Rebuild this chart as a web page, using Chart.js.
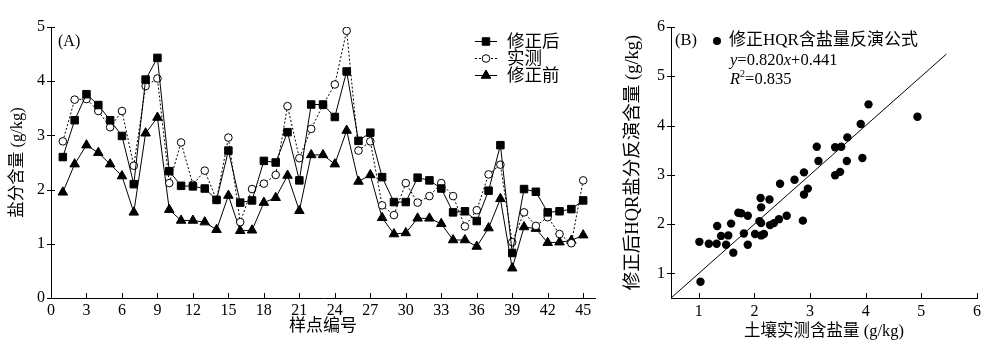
<!DOCTYPE html>
<html>
<head>
<meta charset="utf-8">
<script src="https://cdn.jsdelivr.net/npm/chart.js@4.4.0/dist/chart.umd.min.js"></script>
<style>
  html, body { margin: 0; padding: 0; background: #fff; }
  #wrap { position: relative; width: 990px; height: 352px; }
  #chartA { position: absolute; left: 0; top: 0; }
  #chartB { position: absolute; left: 610px; top: 0; }
</style>
</head>
<body>
<div id="wrap">
  <canvas id="chartA" width="610" height="352"></canvas>
  <canvas id="chartB" width="380" height="352"></canvas>
</div>
<script>
// 样点编号
const sampleIds = [1, 2, 3, 4, 5, 6, 7, 8, 9, 10, 11, 12, 13, 14, 15, 16, 17, 18, 19, 20, 21, 22, 23,
  24, 25, 26, 27, 28, 29, 30, 31, 32, 33, 34, 35, 36, 37, 38, 39, 40, 41, 42, 43, 44, 45];

// 修正后
const corrected = [2.60, 3.28, 3.76, 3.56, 3.28, 2.99, 2.10, 4.03, 4.43, 2.34, 2.07, 2.06, 2.02, 1.81, 2.72,
  1.76, 1.80, 2.53, 2.50, 3.06, 2.17, 3.57, 3.57, 3.34, 4.18, 2.90, 3.05, 2.23, 1.77, 1.77,
  2.22, 2.17, 2.02, 1.58, 1.60, 1.42, 1.98, 2.82, 0.83, 2.01, 1.96, 1.58, 1.60, 1.64, 1.80];

// 实测
const measured = [2.89, 3.66, 3.67, 3.45, 3.15, 3.45, 2.44, 3.91, 4.05, 2.12, 2.87, 2.09, 2.35, 1.81, 2.96,
  1.40, 2.01, 2.11, 2.27, 3.54, 2.58, 3.12, 3.56, 3.94, 4.93, 2.72, 2.89, 1.71, 1.53, 2.12,
  1.76, 1.88, 2.12, 1.88, 1.32, 1.62, 2.28, 2.46, 1.03, 1.58, 1.33, 1.49, 1.18, 1.01, 2.17];

// 修正前
const uncorrected = [1.95, 2.47, 2.82, 2.68, 2.47, 2.25, 1.58, 3.04, 3.33, 1.63, 1.43, 1.43, 1.40, 1.26, 1.89,
  1.24, 1.25, 1.76, 1.85, 2.26, 1.61, 2.64, 2.64, 2.47, 3.09, 2.15, 2.27, 1.48, 1.18, 1.20,
  1.47, 1.47, 1.37, 1.07, 1.07, 0.95, 1.29, 1.83, 0.55, 1.31, 1.28, 1.02, 1.03, 1.06, 1.16];

const xTicksA = [0, 3, 6, 9, 12, 15, 18, 21, 24, 27, 30, 33, 36, 39, 42, 45];
const yTicksA = [0, 1, 2, 3, 4, 5];
const ticksB = [1, 2, 3, 4, 5, 6];
const oneToOne = [0.5, 5.45];

const SERIF = '"Liberation Serif", "Times New Roman", "Noto Sans CJK SC", serif';

// 刻度线
const crossTicks = {
  id: 'crossTicks',
  afterDraw(chart) {
    const ctx = chart.ctx;
    const sx = chart.scales.x, sy = chart.scales.y;
    ctx.save();
    ctx.strokeStyle = '#000';
    ctx.lineWidth = 1;
    ctx.beginPath();
    sx.ticks.forEach(t => {
      const px = Math.round(sx.getPixelForValue(t.value)) + 0.5;
      ctx.moveTo(px, sx.top);
      ctx.lineTo(px, sx.top - 5);
    });
    sy.ticks.forEach(t => {
      const py = Math.round(sy.getPixelForValue(t.value)) + 0.5;
      ctx.moveTo(sy.right - 4, py);
      ctx.lineTo(sy.right + 4, py);
    });
    ctx.stroke();
    ctx.restore();
  }
};

function marker(ctx, style, x, y, r, fill) {
  ctx.beginPath();
  if (style === 'rect') {
    const s = r * Math.SQRT1_2;
    ctx.rect(x - s, y - s, 2 * s, 2 * s);
  } else if (style === 'triangle') {
    ctx.moveTo(x, y - r);
    ctx.lineTo(x + r * 0.866, y + r / 2);
    ctx.lineTo(x - r * 0.866, y + r / 2);
    ctx.closePath();
  } else {
    ctx.arc(x, y, r, 0, Math.PI * 2);
  }
  ctx.fillStyle = fill;
  ctx.fill();
  ctx.stroke();
}

const legendA = {
  id: 'legendA',
  afterDraw(chart) {
    const ctx = chart.ctx;
    ctx.save();
    ctx.font = '16px ' + SERIF;
    ctx.textBaseline = 'middle';
    ctx.fillStyle = '#000';
    ctx.fillText('(A)', 58, 42);
    chart.data.datasets.forEach((ds, i) => {
      const y = 41 + i * 17;
      ctx.strokeStyle = '#000';
      ctx.lineWidth = 1;
      ctx.setLineDash(ds.borderDash || []);
      ctx.beginPath();
      ctx.moveTo(475, y + 0.5);
      ctx.lineTo(497, y + 0.5);
      ctx.stroke();
      ctx.setLineDash([]);
      marker(ctx, ds.pointStyle, 486, y + 0.5, ds.pointRadius, ds.pointBackgroundColor);
      ctx.fillStyle = '#000';
      ctx.font = '17.5px ' + SERIF;
      ctx.fillText(ds.label, 507, y + 1);
    });
    ctx.restore();
  }
};

const toXY = vals => vals.map((v, i) => ({ x: sampleIds[i], y: v }));

new Chart(document.getElementById('chartA'), {
  type: 'line',
  data: {
    datasets: [
      { label: '修正后', data: toXY(corrected), borderColor: '#000', borderWidth: 1,
        pointStyle: 'rect', pointRadius: 5.3, pointBackgroundColor: '#000', pointBorderColor: '#000',
        pointBorderWidth: 1, tension: 0 },
      { label: '实测', data: toXY(measured), borderColor: '#000', borderWidth: 1, borderDash: [2, 2],
        pointStyle: 'circle', pointRadius: 3.8, pointBackgroundColor: '#fff', pointBorderColor: '#000',
        pointBorderWidth: 1, tension: 0 },
      { label: '修正前', data: toXY(uncorrected), borderColor: '#000', borderWidth: 1,
        pointStyle: 'triangle', pointRadius: 5.5, pointBackgroundColor: '#000', pointBorderColor: '#000',
        pointBorderWidth: 1, tension: 0 }
    ]
  },
  options: {
    responsive: false,
    animation: false,
    devicePixelRatio: 1,
    layout: { padding: { left: 0, top: 27, right: 15, bottom: 0 } },
    plugins: { legend: { display: false }, tooltip: { enabled: false } },
    scales: {
      x: {
        type: 'linear', min: 0, max: 46,
        afterBuildTicks: s => { s.ticks = xTicksA.map(v => ({ value: v })); },
        afterFit: s => { s.height = 54; },
        grid: { display: false, drawTicks: false },
        border: { display: true, color: '#000', width: 1 },
        ticks: { color: '#000', padding: 3, maxRotation: 0, autoSkip: false, font: { family: SERIF, size: 16 } },
        title: { display: true, text: '样点编号', color: '#000', font: { family: SERIF, size: 17 },
          padding: { top: 0, bottom: 15 } }
      },
      y: {
        min: 0, max: 5,
        afterBuildTicks: s => { s.ticks = yTicksA.map(v => ({ value: v })); },
        afterFit: s => { s.width = 51; },
        grid: { display: false, drawTicks: false },
        border: { display: true, color: '#000', width: 1 },
        ticks: { color: '#000', padding: 6, font: { family: SERIF, size: 16 } },
        title: { display: true, text: '盐分含量 (g/kg)', color: '#000', font: { family: SERIF, size: 16.5 },
          padding: { top: 8, bottom: 0 } }
      }
    }
  },
  plugins: [crossTicks, legendA]
});

const legendB = {
  id: 'legendB',
  afterDraw(chart) {
    const ctx = chart.ctx;
    ctx.save();
    ctx.fillStyle = '#000';
    ctx.textBaseline = 'middle';
    ctx.font = '16.5px ' + SERIF;
    ctx.fillText('(B)', 65, 41);
    ctx.beginPath();
    ctx.arc(107, 41, 4, 0, Math.PI * 2);
    ctx.fill();
    ctx.font = '17px ' + SERIF;
    ctx.fillText('修正HQR含盐量反演公式', 119, 41);
    // y=0.820x+0.441
    let x = 120;
    const parts = [['y', true], ['=0.820', false], ['x', true], ['+0.441', false]];
    parts.forEach(([t, it]) => {
      ctx.font = (it ? 'italic ' : '') + '16.5px ' + SERIF;
      ctx.fillText(t, x, 61);
      x += ctx.measureText(t).width;
    });
    // R²=0.835
    x = 120;
    ctx.font = 'italic 16.5px ' + SERIF;
    ctx.fillText('R', x, 80);
    x += ctx.measureText('R').width;
    ctx.font = '10px ' + SERIF;
    ctx.fillText('2', x, 74);
    x += ctx.measureText('2').width;
    ctx.font = '16.5px ' + SERIF;
    ctx.fillText('=0.835', x, 80);
    ctx.restore();
  }
};

new Chart(document.getElementById('chartB'), {
  type: 'scatter',
  data: {
    datasets: [
      { label: '修正HQR含盐量反演公式', data: measured.map((v, i) => ({ x: v, y: corrected[i] })),
        pointStyle: 'circle', pointRadius: 4.2, pointBackgroundColor: '#000', pointBorderColor: '#000',
        pointBorderWidth: 0 },
      { label: '1:1', type: 'line', data: oneToOne.map(v => ({ x: v, y: v })),
        borderColor: '#000', borderWidth: 1, pointRadius: 0 }
    ]
  },
  options: {
    responsive: false,
    animation: false,
    devicePixelRatio: 1,
    layout: { padding: { left: 0, top: 27, right: 13, bottom: 0 } },
    plugins: { legend: { display: false }, tooltip: { enabled: false } },
    scales: {
      x: {
        type: 'linear', min: 0.5, max: 6,
        afterBuildTicks: s => { s.ticks = ticksB.map(v => ({ value: v })); },
        afterFit: s => { s.height = 54; },
        grid: { display: false, drawTicks: false },
        border: { display: true, color: '#000', width: 1 },
        ticks: { color: '#000', padding: 4, maxRotation: 0, font: { family: SERIF, size: 16 } },
        title: { display: true, text: '土壤实测含盐量 (g/kg)', color: '#000', font: { family: SERIF, size: 16.5 },
          padding: { top: 0, bottom: 10 } }
      },
      y: {
        type: 'linear', min: 0.5, max: 6,
        afterBuildTicks: s => { s.ticks = ticksB.map(v => ({ value: v })); },
        afterFit: s => { s.width = 61; },
        grid: { display: false, drawTicks: false },
        border: { display: true, color: '#000', width: 1 },
        ticks: { color: '#000', padding: 6, font: { family: SERIF, size: 16 } },
        title: { display: true, text: '修正后HQR盐分反演含量 (g/kg)', color: '#000', font: { family: SERIF, size: 18.5 },
          padding: { top: 12, bottom: 0 } }
      }
    }
  },
  plugins: [crossTicks, legendB]
});
</script>
</body>
</html>
